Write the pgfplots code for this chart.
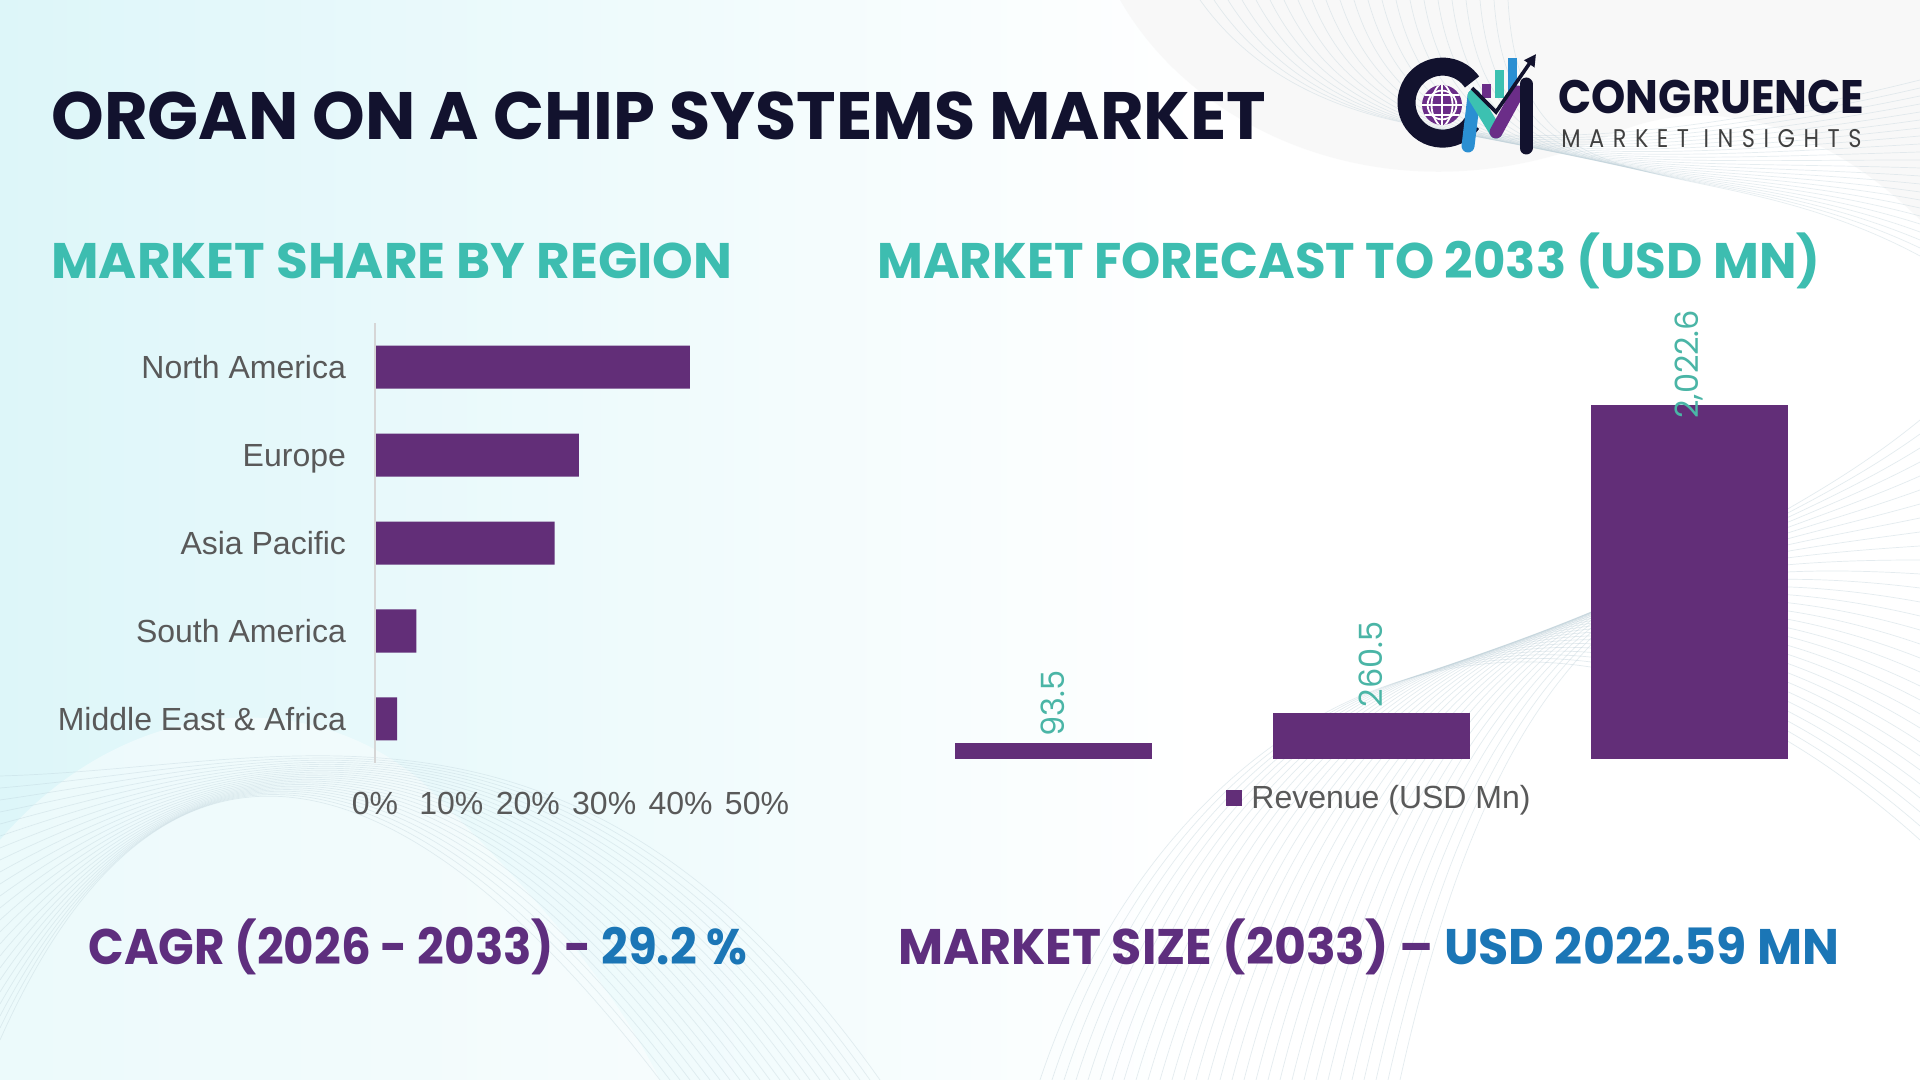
\documentclass[border=0pt]{standalone}
\usepackage{pgfplots}
\pgfplotsset{compat=1.18}
\usepackage{fontspec}
\usepackage{graphicx}
\usetikzlibrary{arrows.meta}
\setmainfont{Liberation Sans}
\newfontfamily\pop{Poppins}
\newfontfamily\popsp{Poppins}[LetterSpace=38]

\definecolor{navy}{HTML}{12122E}
\definecolor{barpurple}{HTML}{622E78}
\definecolor{headteal}{HTML}{3DBDB0}
\definecolor{labteal}{HTML}{4AB5A6}
\definecolor{labgray}{HTML}{595959}
\definecolor{txtpurple}{HTML}{5E2E7E}
\definecolor{txtblue}{HTML}{1B76B6}
\definecolor{logoblue}{HTML}{2B8FD2}
\definecolor{logoteal}{HTML}{3CC1B1}
\definecolor{logopurple}{HTML}{6B2D88}
\definecolor{wave}{HTML}{B9CDD6}
\definecolor{tint}{HTML}{DDF6F9}

\newcommand{\lab}{\fontsize{16pt}{19pt}\selectfont}
\newcommand{\dlab}{\pop\fontsize{16pt}{19pt}\selectfont}

\begin{document}
\begin{tikzpicture}[x=1pt,y=1pt]
% page and background
\path[use as bounding box] (0,0) rectangle (960,540);
\fill[white] (0,0) rectangle (960,540);
\begin{scope}
\clip (0,0) rectangle (960,540);
\shade[left color=tint, right color=white] (0,0) rectangle (600,540);
\shade[top color=white, bottom color=white, middle color=white, opacity=0.0] (0,0) rectangle (1,1);
% soft lobes, top right
\fill[gray!9, opacity=0.55] (560,540) .. controls (600,470) and (700,430) .. (800,470)
  .. controls (860,500) and (920,470) .. (960,430) -- (960,540) -- cycle;
\foreach \i in {0,...,22} {
  \draw[wave, line width=0.35pt, opacity=0.35]
    ({600+\i*7},540) .. controls ({650+\i*5},{470-\i*2}) and ({760+\i*4},{450+\i}) .. (960,{500-\i*4});
}
% line waves, bottom right
\foreach \i in {0,...,30} {
  \draw[wave, line width=0.35pt, opacity=0.38]
    ({520+\i*6},0) .. controls ({580+\i*6},{180+\i*3}) and ({760+\i*3},{300-\i*2}) .. (960,{120+\i*7});
}
% line waves, bottom left
\fill[white, opacity=0.45] (0,0) -- (0,120) .. controls (60,190) and (150,200) .. (210,150)
  .. controls (250,110) and (300,60) .. (330,0) -- cycle;
\foreach \i in {0,...,22} {
  \draw[wave, line width=0.35pt, opacity=0.34]
    (0,{20+\i*6}) .. controls ({80+\i*3},{200-\i*2}) and ({200+\i*4},{170+\i*2}) .. ({330+\i*5},0);
}
\end{scope}

% title
\node[anchor=base west, inner sep=0, text=navy] at (25.5,470)
  {\resizebox{607.5pt}{\height}{\pop\bfseries\fontsize{33.5pt}{36pt}\selectfont ORGAN ON A CHIP SYSTEMS MARKET}};

% logo emblem
\draw[navy, line width=9pt] (736,499) arc (35:325:18);
\fill[logopurple] (721,487.5) circle (10);
\begin{scope}
\clip (721,487.5) circle (10);
\draw[white, line width=0.9pt] (721,487.5) circle (7.2);
\draw[white, line width=0.9pt] (710,487.5) -- (732,487.5);
\draw[white, line width=0.9pt] (710,492.5) -- (732,492.5);
\draw[white, line width=0.9pt] (710,482.5) -- (732,482.5);
\draw[white, line width=0.9pt] (721,476) -- (721,499);
\draw[white, line width=0.9pt] (721,476) .. controls (714,482) and (714,493) .. (721,499);
\draw[white, line width=0.9pt] (721,476) .. controls (728,482) and (728,493) .. (721,499);
\end{scope}
\fill[logopurple] (741,491) rectangle (745.5,498);
\fill[logoteal] (747.5,491) rectangle (752,505);
\fill[logoblue] (754,491) rectangle (758.5,511);
\draw[logoblue, line width=6.5pt, line cap=round] (734,467) -- (737,492);
\draw[logoteal, line width=6.5pt, line cap=round] (737,492) -- (748,474);
\draw[logopurple, line width=6.5pt, line cap=round] (748,474) -- (759,494);
\draw[navy, line width=6.5pt, line cap=round] (763,466) -- (763,498);
\draw[navy, line width=1.8pt, -{Triangle[length=6pt,width=6pt]}] (736,496) -- (748,484) -- (768,513);

% logo words
\node[anchor=base west, inner sep=0, text=navy] at (779,483)
  {\resizebox{153pt}{\height}{\pop\bfseries\fontsize{23.5pt}{26pt}\selectfont CONGRUENCE}};
\node[anchor=base west, inner sep=0, text=black!75] at (780.5,466)
  {\resizebox{150pt}{\height}{\popsp\fontsize{12.8pt}{14pt}\selectfont MARKET INSIGHTS}};

% section headings
\node[anchor=base west, inner sep=0, text=headteal] at (25.5,400.5)
  {\resizebox{340.5pt}{\height}{\pop\bfseries\fontsize{25pt}{28pt}\selectfont MARKET SHARE BY REGION}};
\node[anchor=base west, inner sep=0, text=headteal] at (438.5,400.5)
  {\resizebox{471.5pt}{\height}{\pop\bfseries\fontsize{25pt}{28pt}\selectfont MARKET FORECAST TO 2033 (USD MN)}};

% regional share
\begin{axis}[
  at={(187.5pt,158.5pt)}, anchor=south west,
  scale only axis, width=191pt, height=220pt,
  xbar, bar width=21.5pt,
  xmin=0, xmax=50, ymin=-0.5, ymax=4.5, y dir=reverse,
  ytick={0,1,2,3,4},
  yticklabels={North America, Europe, Asia Pacific, South America, Middle East \& Africa},
  xtick={0,10,20,30,40,50},
  xticklabel={\pgfmathprintnumber{\tick}\%},
  /pgf/number format/assume math mode=true,
  axis line style={draw=none}, major tick length=0pt,
  tick label style={font=\lab, text=labgray},
  yticklabel style={anchor=base east, xshift=-11pt, yshift=-5.8pt},
  xticklabel style={yshift=-11pt},
  clip=false,
]
\addplot[fill=barpurple, draw=none] coordinates {(41.2,0) (26.7,1) (23.5,2) (5.4,3) (2.9,4)};
\draw[black!16, line width=0.6pt] (axis cs:0,-0.5) -- (axis cs:0,4.5);
\end{axis}

% revenue forecast
\begin{axis}[
  at={(447pt,160.5pt)}, anchor=south west,
  scale only axis, width=477pt, height=218.75pt,
  ybar, bar width=98.5pt,
  xmin=-0.5, xmax=2.5, ymin=0, ymax=2500,
  axis line style={draw=none}, xtick=\empty, ytick=\empty,
  /pgf/number format/assume math mode=true,
  clip=false,
  nodes near coords={\pgfmathprintnumber[fixed,fixed zerofill,precision=1,1000 sep={,}]{\pgfplotspointmeta}},
  legend style={at={(0.510,-0.089)}, anchor=center, draw=none, fill=none,
    font=\lab, text=labgray, inner sep=0pt},
  legend image code/.code={\fill[barpurple] (0pt,-4pt) rectangle (8pt,4pt); \path (10.5pt,0pt);},
]
\addplot[fill=barpurple, draw=none, bar shift=0pt,
  every node near coord/.append style={font=\dlab, text=labteal, rotate=90, anchor=west, inner sep=3pt}]
  coordinates {(0,93.5)};
\addlegendentry{Revenue (USD Mn)}
\addplot[forget plot, fill=barpurple, draw=none, bar shift=0pt,
  every node near coord/.append style={font=\dlab, text=labteal, rotate=90, anchor=west, inner sep=3pt}]
  coordinates {(1,260.5)};
\addplot[forget plot, fill=barpurple, draw=none, bar shift=0pt,
  every node near coord/.append style={font=\dlab, text=labteal, yshift=-10pt, rotate=90, anchor=west, inner sep=3pt}]
  coordinates {(2,2022.6)};
\end{axis}

% headline figures
\node[anchor=base west, inner sep=0] at (44,57.5)
  {\resizebox{329.5pt}{\height}{\pop\bfseries\fontsize{25pt}{28pt}\selectfont
   \textcolor{txtpurple}{CAGR (2026 - 2033) -} \textcolor{txtblue}{29.2 \%}}};
\node[anchor=base west, inner sep=0] at (449,57.5)
  {\resizebox{470.5pt}{\height}{\pop\bfseries\fontsize{25pt}{28pt}\selectfont
   \textcolor{txtpurple}{MARKET SIZE (2033) –} \textcolor{txtblue}{USD 2022.59 MN}}};
\end{tikzpicture}
\end{document}
